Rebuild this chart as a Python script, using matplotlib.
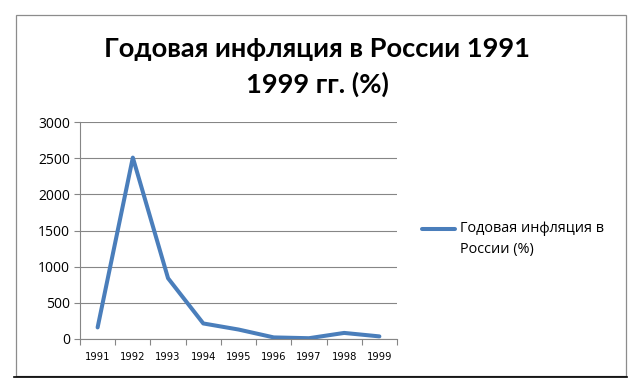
import matplotlib
matplotlib.use("Agg")
import matplotlib.pyplot as plt
from matplotlib.patches import Rectangle
from matplotlib.lines import Line2D

years = ["1991", "1992", "1993", "1994", "1995", "1996", "1997", "1998", "1999"]
inflation = [160, 2508, 840, 215, 131, 22, 11, 84, 36]
yticks = [0, 500, 1000, 1500, 2000, 2500, 3000]
title = "Годовая инфляция в России 1991\n1999 гг. (%)"
series_name = "Годовая инфляция в\nРоссии (%)"

plt.rcParams['font.family'] = ['Lato', 'DejaVu Sans']

W, H = 637, 392
fig = plt.figure(figsize=(W / 100, H / 100), dpi=100)

def fx(px):
    return px / W

def fy(py):
    return 1 - py / H

# chart frame
fig.add_artist(Rectangle((fx(16), fy(376)), fx(626) - fx(16), fy(15) - fy(376),
                         transform=fig.transFigure, fill=False, edgecolor="#8c8c8c", lw=0.9))
fig.add_artist(Line2D([fx(14), fx(627)], [fy(377), fy(377)], transform=fig.transFigure,
                      color="black", lw=1.2))

ax = fig.add_axes([fx(80), fy(339), fx(397) - fx(80), fy(122) - fy(339)])
x = list(range(len(years)))
line, = ax.plot(x, inflation, color="#4A7EBB", lw=2.9, solid_capstyle="round", solid_joinstyle="round")
ax.set_xlim(-0.5, len(years) - 0.5)
ax.set_ylim(0, 3000)
ax.set_yticks(yticks)
ax.set_yticklabels([str(v) for v in yticks], fontsize=10, family=["Open Sans", "DejaVu Sans"])
ax.set_xticks(x)
ax.set_xticklabels(years, fontsize=7.2, family=["DejaVu Sans"])
ax.set_xticks([i - 0.5 for i in range(len(years) + 1)], minor=True)
ax.tick_params(axis="x", which="major", length=0, pad=9)
ax.tick_params(axis="x", which="minor", length=4, color="#868686", width=0.8)
ax.tick_params(axis="y", length=4, color="#868686", width=0.8, pad=3)
ax.yaxis.grid(True, color="#868686", lw=0.8)
ax.set_axisbelow(True)
for s in ["top", "right"]:
    ax.spines[s].set_visible(False)
for s in ["left", "bottom"]:
    ax.spines[s].set_color("#868686")
    ax.spines[s].set_linewidth(0.8)

fig.text(fx(317), fy(67), title, ha="center", va="center", fontsize=19.6, fontweight="bold",
         linespacing=1.52)

leg = fig.legend([line], [series_name], loc="center left", bbox_to_anchor=(fx(409), fy(239)),
                 frameon=False, handlelength=2.3, handletextpad=0.3,
                 prop={"family": ["Open Sans", "DejaVu Sans"], "size": 10.4})
for t in leg.get_texts():
    t.set_linespacing(1.5)
h = leg.legend_handles[0]
h.set_ydata([y + 7.5 for y in h.get_ydata()])

fig.savefig("out.png", dpi=100)
